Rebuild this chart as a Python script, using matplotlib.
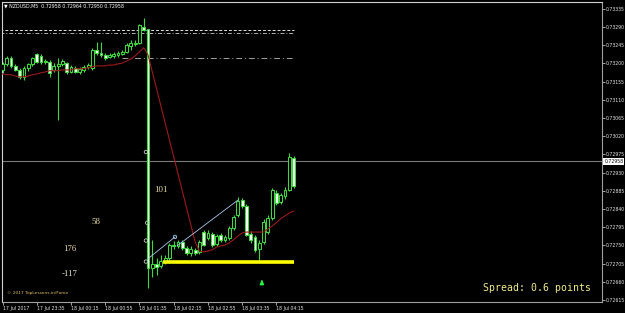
import numpy as np
import matplotlib
matplotlib.use('Agg')
import matplotlib.pyplot as plt
from matplotlib.transforms import blended_transform_factory

################################################################################
# NZDUSD M5 bars, 17 Jul 22:55 -> 18 Jul 04:35
bar_open = [0.73184, 0.73199, 0.73214, 0.73194, 0.73184, 0.73167, 0.73189, 0.73199,
            0.73224, 0.73219, 0.73206, 0.73204, 0.73184, 0.73194, 0.73199, 0.73201,
            0.73179, 0.73189, 0.73179, 0.73184, 0.73192, 0.73189, 0.73234, 0.73226,
            0.73221, 0.73216, 0.73219, 0.73221, 0.73224, 0.73229, 0.73243, 0.73248,
            0.73251, 0.73290, 0.73286,
            0.72694, 0.72704, 0.72699, 0.72712, 0.72719, 0.72751, 0.72749, 0.72759,
            0.72744, 0.72731, 0.72739, 0.72734, 0.72783, 0.72768, 0.72778, 0.72754,
            0.72776, 0.72764, 0.72768, 0.72793, 0.72825, 0.72862, 0.72848, 0.72778,
            0.72771, 0.72741, 0.72759, 0.72783, 0.72818, 0.72880, 0.72858, 0.72872,
            0.72887, 0.72966]
bar_high = [0.73204, 0.73219, 0.73219, 0.73199, 0.73189, 0.73194, 0.73201, 0.73216,
            0.73226, 0.73224, 0.73211, 0.73209, 0.73201, 0.73214, 0.73211, 0.73204,
            0.73196, 0.73194, 0.73192, 0.73196, 0.73201, 0.73239, 0.73253, 0.73253,
            0.73226, 0.73226, 0.73229, 0.73231, 0.73234, 0.73251, 0.73258, 0.73258,
            0.73298, 0.73313, 0.73286,
            0.72764, 0.72719, 0.72726, 0.72726, 0.72756, 0.72761, 0.72764, 0.72764,
            0.72749, 0.72749, 0.72744, 0.72764, 0.72788, 0.72788, 0.72783, 0.72778,
            0.72781, 0.72776, 0.72798, 0.72825, 0.72870, 0.72867, 0.72853, 0.72786,
            0.72776, 0.72764, 0.72816, 0.72825, 0.72892, 0.72887, 0.72880, 0.72895,
            0.72979, 0.72971]
bar_low = [0.73177, 0.73194, 0.73189, 0.73182, 0.73162, 0.73159, 0.73182, 0.73194,
           0.73201, 0.73199, 0.73199, 0.73167, 0.73179, 0.73060, 0.73194, 0.73174,
           0.73177, 0.73177, 0.73174, 0.73179, 0.73187, 0.73184, 0.73221, 0.73216,
           0.73209, 0.73214, 0.73214, 0.73216, 0.73221, 0.73226, 0.73234, 0.73243,
           0.73248, 0.73281, 0.72645,
           0.72672, 0.72677, 0.72694, 0.72704, 0.72714, 0.72741, 0.72744, 0.72739,
           0.72726, 0.72724, 0.72726, 0.72729, 0.72749, 0.72764, 0.72746, 0.72749,
           0.72759, 0.72759, 0.72764, 0.72788, 0.72820, 0.72843, 0.72773, 0.72756,
           0.72734, 0.72709, 0.72754, 0.72778, 0.72813, 0.72850, 0.72853, 0.72865,
           0.72885, 0.72892]
bar_close = [0.73199, 0.73214, 0.73194, 0.73184, 0.73167, 0.73189, 0.73199, 0.73214,
             0.73204, 0.73204, 0.73204, 0.73177, 0.73194, 0.73199, 0.73206, 0.73179,
             0.73192, 0.73179, 0.73187, 0.73192, 0.73196, 0.73234, 0.73226, 0.73221,
             0.73214, 0.73221, 0.73224, 0.73226, 0.73229, 0.73246, 0.73251, 0.73251,
             0.73295, 0.73283, 0.72694,
             0.72704, 0.72697, 0.72712, 0.72719, 0.72751, 0.72749, 0.72759, 0.72744,
             0.72731, 0.72741, 0.72731, 0.72759, 0.72751, 0.72781, 0.72751, 0.72773,
             0.72764, 0.72771, 0.72793, 0.72820, 0.72860, 0.72848, 0.72776, 0.72764,
             0.72739, 0.72756, 0.72808, 0.72818, 0.72887, 0.72855, 0.72875, 0.72887,
             0.72969, 0.72897]

# moving average (dark red)
ma_line = [0.73174, 0.73172, 0.73172, 0.73169, 0.73167, 0.73167, 0.73169, 0.73172,
           0.73174, 0.73177, 0.73179, 0.73182, 0.73182, 0.73182, 0.73184, 0.73184,
           0.73184, 0.73187, 0.73187, 0.73187, 0.73189, 0.73192, 0.73194, 0.73194,
           0.73194, 0.73196, 0.73196, 0.73199, 0.73201, 0.73206, 0.73211, 0.73219,
           0.73229, 0.73239, 0.73221,
           0.73179, 0.73137, 0.73095, 0.73053, 0.73011, 0.72969, 0.72927, 0.72885,
           0.72843, 0.72801, 0.72759, 0.72736, 0.72734, 0.72736, 0.72739, 0.72746,
           0.72749, 0.72751, 0.72756, 0.72764, 0.72773, 0.72781, 0.72783, 0.72783,
           0.72783, 0.72783, 0.72783, 0.72791, 0.72798, 0.72806, 0.72816, 0.72823,
           0.72830, 0.72835]

date_bars = [0, 8, 16, 24, 32, 40, 48, 56, 64]
date_labels = ['17 Jul 2017', '17 Jul 23:35', '18 Jul 00:15', '18 Jul 00:55',
               '18 Jul 01:35', '18 Jul 02:15', '18 Jul 02:55', '18 Jul 03:35',
               '18 Jul 04:15']
price_ticks = [0.73335, 0.73290, 0.73245, 0.73200, 0.73155, 0.73110, 0.73065,
               0.73020, 0.72975, 0.72930, 0.72885, 0.72840, 0.72795, 0.72750,
               0.72705, 0.72660, 0.72615]
bid_price = 0.72958

# chart objects
upper_levels = [0.73282, 0.73276]     # dashed / dash-dot pair
mid_level = 0.73214
mid_level_start = 28
support_level = 0.72709
support_start = 37.5
trend_1_bars = [34, 40.3]
trend_1_prices = [0.72717, 0.72771]
trend_2_bars = [40.8, 55]
trend_2_prices = [0.72749, 0.72862]
ring_bars = [33.5, 33.8, 33.5, 33.5]
ring_prices = [0.72981, 0.72806, 0.72762, 0.72710]
arrow_bar = 60.6
arrow_price = 0.72662
level_labels = ['101', '58', '176', '-117']
level_label_px = [(161, 190), (96, 222), (70, 249), (70, 274)]

################################################################################
W, H = 625, 313
fig = plt.figure(figsize=(W / 100, H / 100), dpi=100)
fig.set_facecolor('black')
ax = fig.add_axes([2 / W, 11 / H, 600 / W, 300 / H])
ax.set_facecolor('black')

x = np.arange(len(bar_open))
o = np.array(bar_open)
c = np.array(bar_close)
wick = '#3fd83f'

ax.vlines(x, bar_low, bar_high, color=wick, lw=0.8, zorder=2)
body = np.maximum(np.abs(c - o), 0.000015)
fill = np.where(c >= o, 'black', '#f4fff0')
ax.bar(x, body, bottom=np.minimum(o, c), width=0.66, color=fill,
       edgecolor=wick, linewidth=0.75, zorder=3)

ax.plot(x, ma_line, color='#9c1a1a', lw=0.8, zorder=4)

ax.axhline(bid_price, color='#7a7a7a', lw=0.8, zorder=1)
ax.hlines(upper_levels[0], -0.5, x[-1], color='#e0e0e0', lw=0.7,
          linestyles=(0, (3, 2)), zorder=1)
ax.hlines(upper_levels[1], -0.5, x[-1], color='#b0b0b0', lw=0.7,
          linestyles=(0, (4, 2, 1, 2)), zorder=1)
ax.hlines(mid_level, mid_level_start, x[-1] + 0.3, color='#a0a0a0', lw=0.7,
          linestyles=(0, (6, 3, 1, 3)), zorder=1)
ax.hlines(support_level, support_start, x[-1], color='#ffff00', lw=2.6, zorder=5)

ax.plot(trend_1_bars, trend_1_prices, color='#a8c8f0', lw=0.6, zorder=5)
ax.plot(trend_2_bars, trend_2_prices, color='#a8c8f0', lw=0.6, zorder=5)
ax.scatter(ring_bars, ring_prices, s=6, facecolors='none', edgecolors='#c8c8c8',
           linewidths=0.6, zorder=6)
ax.scatter([trend_1_bars[1]], [trend_1_prices[1]], s=6, facecolors='none',
           edgecolors='#a8c8f0', linewidths=0.6, zorder=6)
ax.annotate('', xy=(arrow_bar, arrow_price + 0.00010),
            xytext=(arrow_bar, arrow_price - 0.00010),
            arrowprops=dict(arrowstyle='-|>', color='#22ee44', lw=1.3,
                            mutation_scale=5), zorder=6)

ax.set_xlim(-0.12, 140.07)
ax.set_ylim(0.72610, 0.73352)

# axes
for side in ['left', 'top']:
    ax.spines[side].set_color('#d0d0d0')
for side in ['right', 'bottom']:
    ax.spines[side].set_color('#a0a0a0')
for sp in ax.spines.values():
    sp.set_linewidth(0.8)

ax.yaxis.tick_right()
ax.set_yticks(price_ticks)
ax.set_yticklabels(['%.5f' % p for p in price_ticks])
ax.set_xticks(date_bars)
ax.set_xticklabels(date_labels)
ax.tick_params(axis='both', colors='#e8e8e8', labelsize=3.3, length=2,
               width=0.5, pad=1)
for lab in ax.get_xticklabels():
    lab.set_ha('left')

tr = blended_transform_factory(ax.transAxes, ax.transData)
ax.text(1.004, bid_price, '%.5f' % bid_price, transform=tr, fontsize=3.3,
        color='black', va='center', ha='left',
        bbox=dict(facecolor='white', edgecolor='none', pad=0.7), zorder=10)

# texts placed on the chart window
fig.text(4 / W, 1 - 6 / H, '\u25bc NZDUSD,M5  0.72958 0.72964 0.72950 0.72958',
         fontsize=3.4, color='white', va='center', ha='left')
for t, (px, py) in zip(level_labels, level_label_px):
    fig.text(px / W, 1 - py / H, t, fontsize=6.3, family='Liberation Serif',
             color='#f0ecd0' if t.startswith('-') else '#e6dca0',
             va='center', ha='center')
fig.text(7 / W, 1 - 293 / H, '\u00a9 2017 TopLessons.in/Forex', fontsize=3.2,
         color='#e0c060', va='center', ha='left')
fig.text(591 / W, 1 - 288 / H, 'Spread: 0.6 points', fontsize=7.1,
         family='DejaVu Sans Mono', color='#f0ec88', va='center', ha='right')

fig.savefig('out.png', dpi=100, facecolor='black')
